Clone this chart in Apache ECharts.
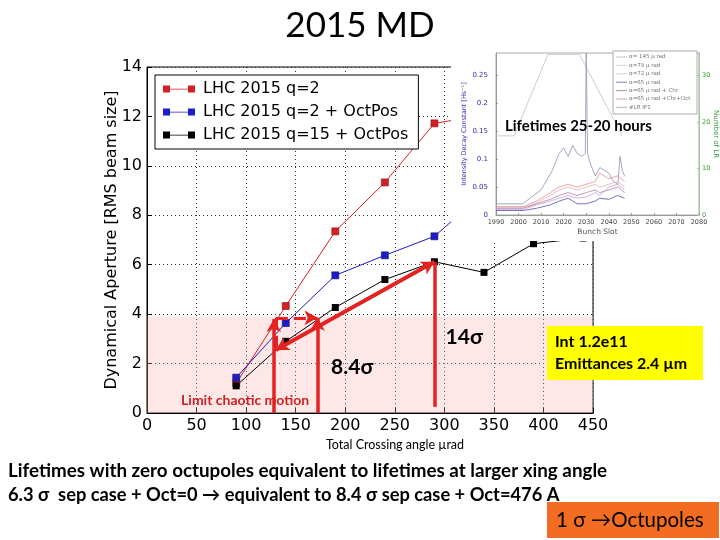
<!DOCTYPE html>
<html><head><meta charset="utf-8">
<script src="https://cdn.jsdelivr.net/npm/echarts@6/dist/echarts.min.js"></script>
<style>html,body{margin:0;padding:0;background:#fff}#c{width:720px;height:540px}</style>
</head><body><div id="c"></div>
<script>
// ---- main chart data ----
const seriesNames = ['LHC 2015 q=2', 'LHC 2015 q=2 + OctPos', 'LHC 2015 q=15 + OctPos'];
const angleQ2 = [90, 140, 190, 240, 290, 340];
const daQ2 = [1.2, 4.33, 7.35, 9.33, 11.72, 12.05];
const angleQ2Oct = [90, 140, 190, 240, 290, 340];
const daQ2Oct = [1.43, 3.64, 5.57, 6.38, 7.15, 8.9];
const angleQ15Oct = [90, 140, 190, 240, 290, 340, 390, 440];
const daQ15Oct = [1.1, 2.9, 4.27, 5.4, 6.12, 5.69, 6.85, 7.08];
const xTickLabels = ['0','50','100','150','200','250','300','350','400','450'];
const yTickLabels = ['0','2','4','6','8','10','12','14'];

// ---- inset data (estimated) ----
const insetLegend = ['\u03b1= 145 \u03bc rad', '\u03b1=79 \u03bc rad', '\u03b1=72 \u03bc rad', '\u03b1=65 \u03bc rad', '\u03b1=65 \u03bc rad + Chr', '\u03b1=65 \u03bc rad +Chr+Oct', '#LR IP1'];
const slotTop = [1990, 2002, 2005, 2010, 2015, 2018, 2020, 2022, 2024, 2026, 2028, 2029.6, 2030, 2030.6, 2032, 2034, 2036, 2038, 2040, 2042, 2044, 2045, 2046, 2047];
const decayA145 = [0.02, 0.02, 0.03, 0.045, 0.08, 0.11, 0.12, 0.105, 0.125, 0.11, 0.105, 0.11, 0.29, 0.11, 0.09, 0.07, 0.085, 0.08, 0.075, 0.06, 0.055, 0.105, 0.08, 0.07];
const slotLow = [1990, 2002, 2008, 2014, 2018, 2022, 2026, 2030, 2034, 2036, 2040, 2044, 2047];
const decayA79 = [0.015, 0.015, 0.025, 0.04, 0.05, 0.055, 0.05, 0.055, 0.06, 0.075, 0.065, 0.07, 0.06];
const decayA72 = [0.013, 0.013, 0.022, 0.035, 0.045, 0.05, 0.045, 0.05, 0.055, 0.05, 0.055, 0.06, 0.05];
const decayA65 = [0.008, 0.008, 0.012, 0.018, 0.025, 0.03, 0.02, 0.02, 0.025, 0.03, 0.028, 0.035, 0.03];
const decayA65Chr = [0.012, 0.012, 0.02, 0.028, 0.035, 0.04, 0.035, 0.04, 0.045, 0.04, 0.045, 0.05, 0.04];
const decayA65ChrOct = [0.01, 0.01, 0.018, 0.025, 0.03, 0.035, 0.03, 0.032, 0.04, 0.035, 0.05, 0.055, 0.045];
const slotLR = [1990, 1998, 2013, 2027, 2046];
const numLR = [17, 17, 34.5, 34.5, 17];

const pairs = (xs, ys) => xs.map((x, i) => [x, ys[i]]);
const CAL = 'Lato, "Open Sans", sans-serif';
const MPL = '"DejaVu Sans", sans-serif';
const RED = '#e32222';

const chart = echarts.init(document.getElementById('c'), null, {renderer: 'canvas'});

const legendIcon = 'path://M0,0h7v7h-7z M7,3.2h18v0.8h-18z M25,0h7v7h-7z';

function insetLine(name, xs, ys, color, yIdx) {
  return {
    name: name, type: 'line', xAxisIndex: 1, yAxisIndex: yIdx, z: 7,
    data: pairs(xs, ys), showSymbol: false, symbol: 'none', silent: true,
    lineStyle: {color: color, width: 0.8}, itemStyle: {color: color}
  };
}

const arrowLine = (a, b, s1, s2, type, w) => [
  {coord: a, symbol: s1, lineStyle: {type: type, width: w, color: RED}},
  {coord: b, symbol: s2}
];

const insetLegendColors = ['#b0b0c8', '#c8c8d0', '#e0c0c0', '#6060b0', '#a070a0', '#d080c0', '#90b890'];

const option = {
  animation: false,
  backgroundColor: '#fff',
  grid: [
    {left: 147, right: 127, top: 67, bottom: 127, show: true, borderColor: '#000', borderWidth: 1, backgroundColor: 'transparent'},
    {left: 496, right: 21, top: 53, bottom: 325, show: true, borderColor: '#aaa', borderWidth: 1, backgroundColor: '#fff', z: 6}
  ],
  legend: {
    data: seriesNames.map(n => ({name: n, icon: legendIcon})),
    orient: 'vertical', left: 155, top: 75,
    itemWidth: 32, itemHeight: 7, itemGap: 7,
    padding: [6, 10, 6, 8],
    backgroundColor: '#fff', borderColor: '#000', borderWidth: 1, borderRadius: 0,
    itemStyle: {borderWidth: 0},
    textStyle: {fontFamily: MPL, fontSize: 16, color: '#000', padding: [0, 0, 0, 3]},
    selectedMode: false
  },
  xAxis: [
    {gridIndex: 0, type: 'value', min: 0, max: 450, interval: 50,
     axisLine: {show: true, lineStyle: {color: '#000', width: 1}},
     axisTick: {show: true, inside: true, length: 5, lineStyle: {color: '#000'}},
     axisLabel: {fontFamily: MPL, fontSize: 16, color: '#000', margin: 5, formatter: (v) => xTickLabels[Math.round(v / 50)]},
     splitLine: {show: true, lineStyle: {type: [1, 3], color: '#333', width: 1}}},
    {gridIndex: 1, type: 'value', min: 1990, max: 2080, interval: 10, z: 6,
     axisLine: {show: true, lineStyle: {color: '#999', width: 1}},
     axisTick: {show: true, inside: true, length: 2, lineStyle: {color: '#999'}},
     axisLabel: {fontFamily: MPL, fontSize: 6.5, color: '#444', margin: 4, formatter: (v) => String(v)},
     splitLine: {show: false},
     name: 'Bunch Slot', nameLocation: 'middle', nameGap: 13, nameMoveOverlap: false,
     nameTextStyle: {fontFamily: MPL, fontSize: 7.5, color: '#555'}}
  ],
  yAxis: [
    {gridIndex: 0, type: 'value', min: 0, max: 14, interval: 2,
     axisLine: {show: true, lineStyle: {color: '#000', width: 1}},
     axisTick: {show: true, inside: true, length: 5, lineStyle: {color: '#000'}},
     axisLabel: {fontFamily: MPL, fontSize: 16, color: '#000', margin: 5, formatter: (v) => yTickLabels[Math.round(v / 2)]},
     splitLine: {show: true, lineStyle: {type: [1, 3], color: '#333', width: 1}},
     name: 'Dynamical Aperture [RMS beam size]', nameLocation: 'middle', nameGap: 27, nameMoveOverlap: false,
     nameTextStyle: {fontFamily: MPL, fontSize: 16, color: '#000'}},
    {gridIndex: 1, type: 'value', min: 0, max: 0.29, interval: 0.05, z: 6, position: 'left',
     axisLine: {show: true, lineStyle: {color: '#999', width: 1}},
     axisTick: {show: true, inside: true, length: 2, lineStyle: {color: '#999'}},
     axisLabel: {fontFamily: MPL, fontSize: 7, color: '#3333aa', margin: 8, showMaxLabel: false},
     splitLine: {show: false},
     name: 'Intensity Decay Constant [Hs\u207b\u00b9]', nameLocation: 'middle', nameGap: 28, nameMoveOverlap: false,
     nameTextStyle: {fontFamily: MPL, fontSize: 6.5, color: '#3333aa'}},
    {gridIndex: 1, type: 'value', min: 0, max: 34.8, interval: 10, z: 6, position: 'right',
     axisLine: {show: true, lineStyle: {color: '#9c9', width: 1}},
     axisTick: {show: true, inside: true, length: 2, lineStyle: {color: '#9c9'}},
     axisLabel: {fontFamily: MPL, fontSize: 6.5, color: '#339933', margin: 3, showMaxLabel: false},
     splitLine: {show: false},
     name: 'Number of LR', nameLocation: 'middle', nameGap: 13, nameRotate: -90, nameMoveOverlap: false,
     nameTextStyle: {fontFamily: MPL, fontSize: 7, color: '#339933'}}
  ],
  series: [
    {name: 'shade', type: 'line', data: [], xAxisIndex: 0, yAxisIndex: 0, z: 1, silent: true,
     markArea: {silent: true, itemStyle: {color: 'rgba(248,170,170,0.28)'},
       data: [[{coord: [0, 0]}, {coord: [450, 3.9]}]]}},
    {name: seriesNames[0], type: 'line', xAxisIndex: 0, yAxisIndex: 0, z: 2,
     data: pairs(angleQ2, daQ2), symbol: 'rect', symbolSize: 7,
     lineStyle: {color: '#d42020', width: 1}, itemStyle: {color: '#d42020', borderColor: '#8a1010', borderWidth: 0.6}},
    {name: seriesNames[1], type: 'line', xAxisIndex: 0, yAxisIndex: 0, z: 2,
     data: pairs(angleQ2Oct, daQ2Oct), symbol: 'rect', symbolSize: 7,
     lineStyle: {color: '#1c1cc8', width: 1}, itemStyle: {color: '#1c1cc8', borderColor: '#101070', borderWidth: 0.6}},
    {name: seriesNames[2], type: 'line', xAxisIndex: 0, yAxisIndex: 0, z: 2,
     data: pairs(angleQ15Oct, daQ15Oct), symbol: 'rect', symbolSize: 7,
     lineStyle: {color: '#000', width: 1}, itemStyle: {color: '#000'}},
    {name: 'annot', type: 'line', data: [], xAxisIndex: 0, yAxisIndex: 0, z: 3, silent: true,
     markLine: {silent: true, animation: false, symbolSize: [11, 13],
       label: {show: false},
       data: [
         arrowLine([128, 0], [128, 3.8], 'none', 'arrow', 'solid', 3.5),
         arrowLine([172, 0], [172, 3.85], 'none', 'arrow', 'solid', 3.5),
         arrowLine([290, 0.25], [290, 6.1], 'none', 'none', 'solid', 3.5),
         arrowLine([130, 3.85], [172, 3.85], 'none', 'arrow', 'dashed', 3),
         arrowLine([130, 3.85], [130, 2.6], 'none', 'none', 'dashed', 3),
         arrowLine([130, 2.55], [290, 6.12], 'arrow', 'arrow', 'solid', 4)
       ]},
     markPoint: {silent: true, symbol: 'circle', symbolSize: 1, itemStyle: {color: 'rgba(0,0,0,0)'},
       data: [
         {coord: [207, 1.86], label: {show: true, position: 'inside', formatter: '8.4\u03c3', fontFamily: CAL, fontWeight: 'bold', fontSize: 21, color: '#000'}},
         {coord: [320, 3.08], label: {show: true, position: 'inside', formatter: '14\u03c3', fontFamily: CAL, fontWeight: 'bold', fontSize: 21, color: '#000'}},
         {coord: [99, 0.49], label: {show: true, position: 'inside', formatter: 'Limit chaotic motion', fontFamily: CAL, fontWeight: 'bold', fontSize: 14, color: '#cc2222'}}
       ]}},
    insetLine(insetLegend[6], slotLR, numLR, '#b8c8b8', 2),
    insetLine(insetLegend[0], slotTop, decayA145, '#9090b8', 1),
    insetLine(insetLegend[1], slotLow, decayA79, '#e09090', 1),
    insetLine(insetLegend[2], slotLow, decayA72, '#e8b0b0', 1),
    insetLine(insetLegend[4], slotLow, decayA65Chr, '#b080b0', 1),
    insetLine(insetLegend[5], slotLow, decayA65ChrOct, '#c8a0d8', 1),
    insetLine(insetLegend[3], slotLow, decayA65, '#5050b0', 1)
  ],
  graphic: [
    {type: 'text', left: 'center', top: 8, z: 20,
     style: {text: '2015 MD', font: '35px ' + CAL, fill: '#000'}},
    {type: 'rect', shape: {x: 451, y: 45, width: 269, height: 196}, z: 5,
     style: {fill: '#fff', stroke: null}},
    {type: 'group', x: 613, y: 51, z: 8, children: [
      {type: 'rect', shape: {x: 0, y: 0, width: 84, height: 63}, z: 8, style: {fill: '#fff', stroke: '#999', lineWidth: 0.8}}
    ].concat(insetLegend.flatMap((t, i) => [
      {type: 'line', shape: {x1: 3, y1: 6 + i * 8.4, x2: 14, y2: 6 + i * 8.4}, z: 9, style: {stroke: insetLegendColors[i], lineWidth: 0.8}},
      {type: 'text', x: 16, y: 6 + i * 8.4, z: 9, style: {text: t, font: '5.5px ' + MPL, fill: '#777', textVerticalAlign: 'middle'}}
    ]))},
    {type: 'text', x: 505, y: 126, z: 20,
     style: {text: 'Lifetimes 25-20 hours', font: 'bold 15px ' + CAL, fill: '#000', textVerticalAlign: 'middle'}},
    {type: 'text', x: 395, y: 445, z: 20,
     style: {text: 'Total Crossing angle \u00b5rad', font: '12.5px ' + CAL, fill: '#000', textAlign: 'center', textVerticalAlign: 'middle'}},
    {type: 'rect', shape: {x: 547, y: 326, width: 156, height: 54}, z: 20, style: {fill: '#ffff00'}},
    {type: 'text', x: 555, y: 342, z: 21,
     style: {text: 'Int 1.2e11', font: 'bold 16px ' + CAL, fill: '#000', textVerticalAlign: 'middle'}},
    {type: 'text', x: 555, y: 364, z: 21,
     style: {text: 'Emittances 2.4 \u00b5m', font: 'bold 16px ' + CAL, fill: '#000', textVerticalAlign: 'middle'}},
    {type: 'text', x: 8, y: 471, z: 20,
     style: {text: 'Lifetimes with zero octupoles equivalent to lifetimes at larger xing angle', font: 'bold 18.8px ' + CAL, fill: '#000', textVerticalAlign: 'middle'}},
    {type: 'text', x: 8, y: 495, z: 20,
     style: {text: '6.3 \u03c3  sep case + Oct=0 \u2192 equivalent to 8.4 \u03c3 sep case + Oct=476 A', font: 'bold 18.3px ' + CAL, fill: '#000', textVerticalAlign: 'middle'}},
    {type: 'rect', shape: {x: 547, y: 502, width: 172, height: 36}, z: 20, style: {fill: '#f26d21'}},
    {type: 'text', x: 556, y: 520, z: 21,
     style: {text: '1 \u03c3 \u2192Octupoles', font: '20.5px ' + CAL, fill: '#000', textVerticalAlign: 'middle'}}
  ]
};
chart.setOption(option);
</script></body></html>
